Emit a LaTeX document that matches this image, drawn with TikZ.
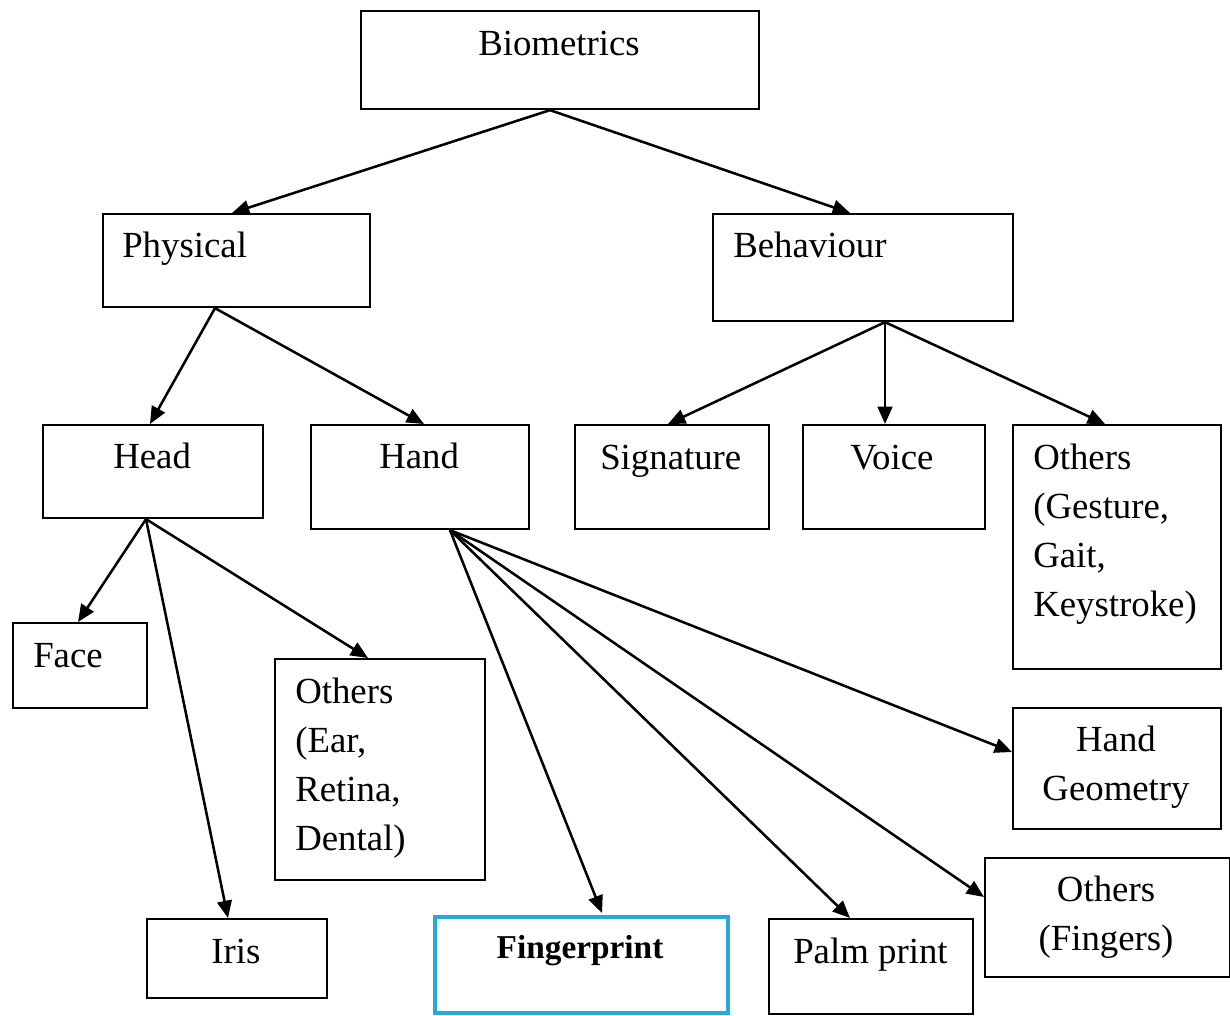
\documentclass[tikz,border=0pt]{standalone}
\usepackage{fontspec}
\setmainfont{Liberation Serif}
\usetikzlibrary{arrows.meta,calc}
\definecolor{fpcyan}{RGB}{38,170,220}
\tikzset{
  box/.style={draw=black, line width=1.6pt, inner sep=0pt, anchor=north west},
  fpbox/.style={draw=fpcyan, line width=3pt, inner sep=0pt, anchor=north west},
  lbl/.style={inner sep=0pt, anchor=base west, font=\fontsize{27.6}{36.75}\selectfont},
  conn/.style={line width=1.9pt, -{Triangle[length=13pt,width=11pt]}}
}
\newcommand{\lines}[1]{\begin{tabular}[t]{@{}l@{}}#1\end{tabular}}
\newcommand{\clines}[1]{\begin{tabular}[t]{@{}c@{}}#1\end{tabular}}
\begin{document}
\begin{tikzpicture}[x=0.75pt,y=-0.75pt]
\useasboundingbox (0,0) rectangle (1230,1015);
% boxes (sizes in pt = px * 0.75)
\node[box, minimum width=298.5pt, minimum height=73.5pt] (bio) at (360,10) {};
\node[box, minimum width=200.25pt, minimum height=69.75pt] (phy) at (102,213) {};
\node[box, minimum width=225pt, minimum height=80.25pt] (beh) at (712,213) {};
\node[box, minimum width=165pt, minimum height=69.75pt] (head) at (42,424) {};
\node[box, minimum width=163.5pt, minimum height=78pt] (hand) at (310,424) {};
\node[box, minimum width=145.5pt, minimum height=78pt] (sig) at (574,424) {};
\node[box, minimum width=136.5pt, minimum height=78pt] (voice) at (802,424) {};
\node[box, minimum width=156pt, minimum height=183pt] (obeh) at (1012,424) {};
\node[box, minimum width=100.5pt, minimum height=63.75pt] (face) at (12,622) {};
\node[box, minimum width=157.5pt, minimum height=165.75pt] (oear) at (274,658) {};
\node[box, minimum width=135pt, minimum height=59.25pt] (iris) at (146,918) {};
\node[fpbox, minimum width=219.75pt, minimum height=72pt] (fp) at (433,915) {};
\node[box, minimum width=153pt, minimum height=71.25pt] (palm) at (768,918) {};
\node[box, minimum width=156pt, minimum height=90.75pt] (hg) at (1012,707) {};
\node[box, minimum width=183.75pt, minimum height=89.25pt] (ofing) at (984,857) {};
% labels
\node[lbl] (bio-t) at (478,55) {Biometrics};
\node[lbl] (phy-t) at (122,257) {Physical};
\node[lbl] (beh-t) at (733,257) {Behaviour};
\node[lbl] (head-t) at (113,468) {Head};
\node[lbl] (hand-t) at (379,468) {Hand};
\node[lbl] (sig-t) at (600,469) {Signature};
\node[lbl] (voice-t) at (850,469) {Voice};
\node[lbl] (obeh-t) at (1033,469) {\lines{Others\\(Gesture,\\Gait,\\Keystroke)}};
\node[lbl] (face-t) at (33,667) {Face};
\node[lbl] (oear-t) at (295,703) {\lines{Others\\(Ear,\\Retina,\\Dental)}};
\node[lbl] (iris-t) at (211,963) {Iris};
\node[lbl, anchor=base, font=\fontsize{25}{30}\selectfont\bfseries] (fp-t) at (580,958) {Fingerprint};
\node[lbl] (palm-t) at (793,963) {Palm print};
\node[lbl, anchor=base] (hg-t) at (1116,751) {\clines{Hand\\Geometry}};
\node[lbl, anchor=base] (ofing-t) at (1106,901) {\clines{Others\\(Fingers)}};
% connectors
\coordinate (bio-s) at ($(bio.south west)+(190,0)$);
\coordinate (phy-s) at ($(phy.south west)+(113,0)$);
\coordinate (beh-s) at ($(beh.south west)+(173,0)$);
\coordinate (head-s) at ($(head.south west)+(104,0)$);
\coordinate (hand-s) at ($(hand.south west)+(140,0)$);
\draw[conn] (bio-s) -- ($(phy.north west)+(130,0)$);
\draw[conn] (bio-s) -- ($(beh.north west)+(138,0)$);
\draw[conn] (phy-s) -- ($(head.north west)+(108,0)$);
\draw[conn] (phy-s) -- ($(hand.north west)+(114,0)$);
\draw[conn] (beh-s) -- ($(sig.north west)+(94,0)$);
\draw[conn] (beh-s) -- (beh-s |- voice.north);
\draw[conn] (beh-s) -- ($(obeh.north west)+(93,0)$);
\draw[conn] (head-s) -- ($(face.north west)+(66,0)$);
\draw[conn] (head-s) -- ($(iris.north west)+(82,0)$);
\draw[conn] (head-s) -- ($(oear.north west)+(94,0)$);
\draw[conn] (hand-s) -- ($(fp.north west)+(169,-2)$);
\draw[conn] (hand-s) -- ($(palm.north west)+(82,0)$);
\draw[conn] (hand-s) -- ($(ofing.north west)+(0,40)$);
\draw[conn] (hand-s) -- ($(hg.north west)+(0,45)$);
\end{tikzpicture}
\end{document}
